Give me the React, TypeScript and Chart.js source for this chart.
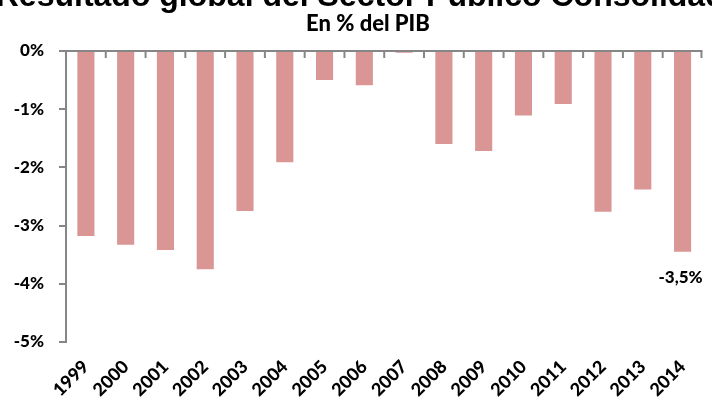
import React, { useEffect, useRef } from "react";
import { Chart, registerables } from "chart.js";

Chart.register(...registerables);

const titleText = "Resultado global del Sector Público Consolidado";
const subtitleText = "En % del PIB";
const years = ["1999", "2000", "2001", "2002", "2003", "2004", "2005", "2006", "2007", "2008", "2009", "2010", "2011", "2012", "2013", "2014"];
const balance = [-3.18, -3.33, -3.42, -3.75, -2.75, -1.91, -0.5, -0.59, -0.03, -1.6, -1.72, -1.11, -0.91, -2.76, -2.38, -3.45];
const valueLabels: (string | null)[] = [null, null, null, null, null, null, null, null, null, null, null, null, null, null, null, "-3,5%"];
const yTicks = [0, -1, -2, -3, -4, -5];

const AXIS_GRAY = "#868686";
const BAR_COLOR = "#D99694";

const decorPlugin = {
  id: "decor",
  afterDraw(chart: any) {
    const ctx = chart.ctx;
    const { chartArea } = chart;
    const x = chart.scales.x;
    const y = chart.scales.y;
    ctx.save();
    // titles
    ctx.fillStyle = "#000";
    ctx.textAlign = "center";
    ctx.textBaseline = "alphabetic";
    ctx.font = "bold 32px 'Liberation Sans', Arial, sans-serif";
    ctx.fillText(titleText, 370, 6);
    ctx.font = "900 22px Lato, sans-serif";
    ctx.fillText(subtitleText, 368, 31);

    // zero line with inside tick marks
    const y0 = y.getPixelForValue(0);
    ctx.strokeStyle = AXIS_GRAY;
    ctx.lineWidth = 2;
    ctx.beginPath();
    ctx.moveTo(chartArea.left, y0);
    ctx.lineTo(chartArea.right, y0);
    ctx.stroke();
    const n = years.length;
    for (let i = 1; i <= n; i++) {
      const bx = i < n ? (x.getPixelForTick(i - 1) + x.getPixelForTick(i)) / 2 : chartArea.right - 1;
      ctx.beginPath();
      ctx.moveTo(bx, y0);
      ctx.lineTo(bx, y0 + 7);
      ctx.stroke();
    }

    // value labels
    const meta = chart.getDatasetMeta(0);
    ctx.font = "900 17px Lato, sans-serif";
    ctx.textAlign = "center";
    ctx.textBaseline = "middle";
    ctx.fillStyle = "#000";
    valueLabels.forEach((lbl, i) => {
      if (!lbl) return;
      const el = meta.data[i];
      ctx.fillText(lbl, el.x - 2, el.y + 26);
    });
    ctx.restore();
  },
};

export default function App() {
  const ref = useRef<HTMLCanvasElement>(null);
  useEffect(() => {
    if (!ref.current) return;
    const chart = new Chart(ref.current, {
      type: "bar",
      data: {
        labels: years,
        datasets: [
          {
            data: balance,
            backgroundColor: BAR_COLOR,
            borderWidth: 0,
            barPercentage: 0.43,
            categoryPercentage: 1,
          },
        ],
      },
      options: {
        responsive: false,
        animation: false,
        layout: { padding: { top: 51, right: 5, left: 0, bottom: 0 } },
        plugins: {
          legend: { display: false },
          title: { display: false },
          tooltip: { enabled: false },
        },
        scales: {
          x: {
            position: "bottom",
            grid: { display: false, drawTicks: false },
            border: { display: false },
            ticks: {
              minRotation: 45,
              maxRotation: 45,
              autoSkip: false,
              padding: 14,
              color: "#000",
              font: { family: "Lato", weight: "900", size: 18 },
            },
            afterFit(scale: any) {
              scale.height = 58;
            },
          },
          y: {
            min: -5,
            max: 0,
            afterBuildTicks(scale: any) {
              scale.ticks = yTicks.map((v) => ({ value: v }));
            },
            grid: { drawOnChartArea: false, drawTicks: true, tickLength: 7, color: AXIS_GRAY, lineWidth: 2 },
            border: { display: true, color: AXIS_GRAY, width: 2 },
            ticks: {
              padding: 15,
              color: "#000",
              font: { family: "Lato", weight: "900", size: 17 },
              callback: (v: any) => `${v}%`,
            },
            afterFit(scale: any) {
              scale.width = 66;
            },
          },
        },
      },
      plugins: [decorPlugin],
    });
    return () => chart.destroy();
  }, []);
  return (
    <div style={{ position: "fixed", left: 0, top: 0, width: 712, height: 400, background: "#fff" }}>
      <canvas ref={ref} width={712} height={400} />
    </div>
  );
}
